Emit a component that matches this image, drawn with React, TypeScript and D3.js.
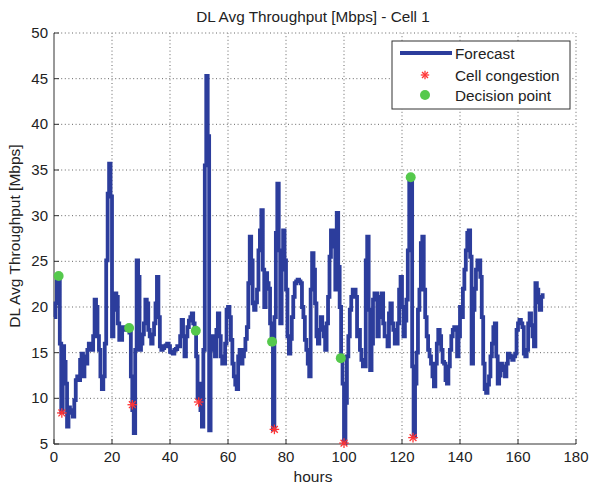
import React from "react";
import * as d3 from "d3";

// forecast sampled every half hour, 0 .. 168.5 h
const hours: number[] = d3.range(0, 338).map((i) => i / 2);
const forecast: number[] = [
  18.9, 20.4, 23.3, 23.4, 16, 8.5, 15.7, 14, 11.6, 6.9,
  9, 8.4, 8.7, 8, 9.8, 12, 12.4, 12, 14.2, 14.9,
  12.4, 14.6, 13.8, 15.3, 16, 15.7, 15.3, 16.8, 20.8, 20,
  16.8, 15.3, 12.4, 11, 12.4, 16, 25.1, 32.4, 35.7, 32.1,
  16.8, 19.7, 21.5, 21.1, 18.2, 16.4, 16.4, 17.8, 17.5, 17.8,
  17.5, 17.7, 17.2, 12.4, 8.7, 6.2, 15.3, 25.1, 23.3, 15.3,
  16, 17, 18.2, 20.8, 20.4, 17.5, 16.8, 16, 17, 18.2,
  20.4, 23.3, 18.9, 15.7, 15.3, 15.5, 15.7, 15.8, 16, 15.7,
  15.1, 15, 14.9, 15.3, 15.4, 15.7, 15.7, 16.8, 18.6, 16.8,
  14.6, 16.8, 17.8, 18.5, 18.9, 19.3, 18.2, 17.4, 14.6, 10,
  11.6, 8.7, 6.9, 15.3, 35.5, 45.3, 38.7, 6.5, 15.3, 16.8,
  16.8, 14.6, 17.5, 19.3, 16.8, 14.6, 13.8, 13.8, 16, 19.7,
  20, 18.9, 16.4, 13.8, 12.4, 11.5, 11, 14.6, 15.3, 13.8,
  14.6, 15.3, 16.5, 17.8, 22.6, 27.7, 25.1, 20.4, 19.7, 20.5,
  21.9, 26.2, 28.4, 30.6, 24.1, 20, 23.7, 22.6, 22, 18.2,
  16.2, 6.6, 18.9, 28.1, 33.5, 26.2, 18.2, 24.1, 28.4, 25.1,
  21.9, 16.8, 14.9, 16.5, 18.9, 21.1, 22.6, 22.8, 23, 22.8,
  22.6, 20, 18.9, 16.4, 15.3, 13.8, 12.4, 21.9, 25.9, 24.1,
  20.4, 16.8, 16, 17.5, 18.9, 17.8, 16.8, 15.3, 18.2, 21.1,
  25.5, 28.4, 26.6, 28.4, 21.9, 30.3, 24.4, 20, 14.4, 11.6,
  5.1, 9.5, 14.6, 16.8, 19.7, 21.1, 21.9, 21.9, 21.1, 16.8,
  17.5, 15.3, 14.2, 13.5, 13.5, 25.1, 27.7, 19.7, 13.1, 16,
  20.8, 21.5, 21.5, 16.8, 18.9, 21.1, 21.5, 18.2, 16.8, 16.8,
  15.7, 19.3, 20.4, 18.2, 17.5, 16, 16, 18.2, 21.9, 23.3,
  20, 16.8, 18.5, 20.8, 26.2, 33.9, 34.2, 13.5, 5.8, 11.6,
  15, 19.7, 21.9, 27, 27.7, 21.9, 18.9, 16.8, 15.3, 14.6,
  13.8, 12.4, 11.3, 13.8, 16, 17.5, 16.8, 15.3, 14, 13.8,
  12, 11.6, 13.5, 15.3, 16.8, 17.5, 17.8, 17.8, 14.6, 16.8,
  20, 18.9, 22, 24.1, 26.2, 28.1, 28.4, 25.5, 13.8, 19.7,
  22, 24.1, 25.1, 25.1, 23.3, 18.9, 13.8, 11, 10.6, 11.5,
  12.4, 14.6, 16, 17.8, 18.2, 14.6, 11.6, 12.5, 13.8, 13.5,
  13.1, 12.4, 13.8, 14.9, 14.7, 14.5, 14.2, 14.6, 14.9, 17.5,
  18.2, 18.6, 18.2, 17.8, 14.9, 14.6, 15.3, 18.2, 19.3, 18,
  16.8, 15.7, 22.6, 21.9, 20.5, 19.7, 21.1, 21.5,
];

const congestionX: number[] = [2.7, 27, 49.9, 76, 100, 123.8];
const congestionY: number[] = [8.4, 9.3, 9.6, 6.6, 5.1, 5.7];
const decisionX: number[] = [1.6, 25.9, 48.9, 75.2, 98.9, 123];
const decisionY: number[] = [23.4, 17.7, 17.4, 16.2, 14.4, 34.2];

const xTicks: number[] = d3.range(0, 181, 20);
const yTicks: number[] = d3.range(5, 51, 5);

const W = 589;
const H = 490;
const M = { left: 54, right: 13, top: 33, bottom: 46 };
const FONT = "'Liberation Sans', Arial, sans-serif";
const BLUE = "#2c3d9c";
const GREEN = "#55c94c";
const RED = "#ff3535";

function Asterisk({ x, y, s, color }: { x: number; y: number; s: number; color: string }) {
  const d = s * 0.7071;
  return (
    <g stroke={color} strokeWidth={1.3}>
      <line x1={x - s} y1={y} x2={x + s} y2={y} />
      <line x1={x} y1={y - s} x2={x} y2={y + s} />
      <line x1={x - d} y1={y - d} x2={x + d} y2={y + d} />
      <line x1={x - d} y1={y + d} x2={x + d} y2={y - d} />
    </g>
  );
}

export default function App() {
  const x = d3.scaleLinear().domain([0, 180]).range([M.left, W - M.right]);
  const y = d3.scaleLinear().domain([5, 50]).range([H - M.bottom, M.top]);
  const line = d3
    .line<number>()
    .x((_, i) => x(hours[i]))
    .y((d) => y(d))
    .curve(d3.curveStepAfter);

  const x0 = x(0), x1 = x(180), y0 = y(5), y1 = y(50);
  const lx = 392, ly = 41;

  return (
    <svg
      width={W}
      height={H}
      style={{ position: "absolute", left: 0, top: 0, background: "#fff" }}
      fontFamily={FONT}
    >
      <rect x={0} y={0} width={W} height={H} fill="#fff" />
      <g stroke="#666" strokeWidth={1} strokeDasharray="1 2.6">
        {xTicks.filter((t) => t > 0).map((t) => (
          <line key={"gx" + t} x1={x(t)} x2={x(t)} y1={y0} y2={y1} />
        ))}
        {yTicks.filter((t) => t > 5).map((t) => (
          <line key={"gy" + t} x1={x0} x2={x1} y1={y(t)} y2={y(t)} />
        ))}
      </g>
      <g stroke="#333" strokeWidth={1}>
        <line x1={x0} x2={x1} y1={y0} y2={y0} />
        <line x1={x0} x2={x0} y1={y0} y2={y1} />
        {xTicks.map((t) => (
          <line key={"tx" + t} x1={x(t)} x2={x(t)} y1={y0} y2={y0 - 5} />
        ))}
        {yTicks.map((t) => (
          <line key={"ty" + t} x1={x0} x2={x0 + 5} y1={y(t)} y2={y(t)} />
        ))}
      </g>
      <g fontSize={15} fill="#222">
        {xTicks.map((t) => (
          <text key={"lx" + t} x={x(t)} y={y0 + 18} textAnchor="middle">
            {t}
          </text>
        ))}
        {yTicks.map((t) => (
          <text key={"ly" + t} x={x0 - 6} y={y(t) + 5} textAnchor="end">
            {t}
          </text>
        ))}
      </g>
      <path d={line(forecast) || ""} fill="none" stroke={BLUE} strokeWidth={3.8} strokeLinejoin="miter" />
      {congestionX.map((cx, i) => (
        <Asterisk key={"c" + i} x={x(cx)} y={y(congestionY[i])} s={4.8} color={RED} />
      ))}
      {decisionX.map((dx, i) => (
        <circle key={"d" + i} cx={x(dx)} cy={y(decisionY[i])} r={5} fill={GREEN} />
      ))}
      <text x={313} y={21.5} textAnchor="middle" fontSize={15.3} fill="#222">
        DL Avg Throughput [Mbps] - Cell 1
      </text>
      <text x={313} y={482} textAnchor="middle" fontSize={15.5} fill="#222">
        hours
      </text>
      <text
        transform={`translate(20, 236) rotate(-90)`}
        textAnchor="middle"
        fontSize={15.5}
        fill="#222"
      >
        DL Avg Throughput [Mbps]
      </text>
      <rect x={lx} y={ly} width={178} height={68} fill="#fff" stroke="#333" strokeWidth={1} />
      <line x1={400} x2={452} y1={53} y2={53} stroke={BLUE} strokeWidth={3.8} />
      <Asterisk x={425} y={75} s={4.2} color={RED} />
      <circle cx={425} cy={95} r={5} fill={GREEN} />
      <g fontSize={15.3} fill="#222">
        <text x={455} y={59}>Forecast</text>
        <text x={455} y={80.5}>Cell congestion</text>
        <text x={455} y={101}>Decision point</text>
      </g>
    </svg>
  );
}
